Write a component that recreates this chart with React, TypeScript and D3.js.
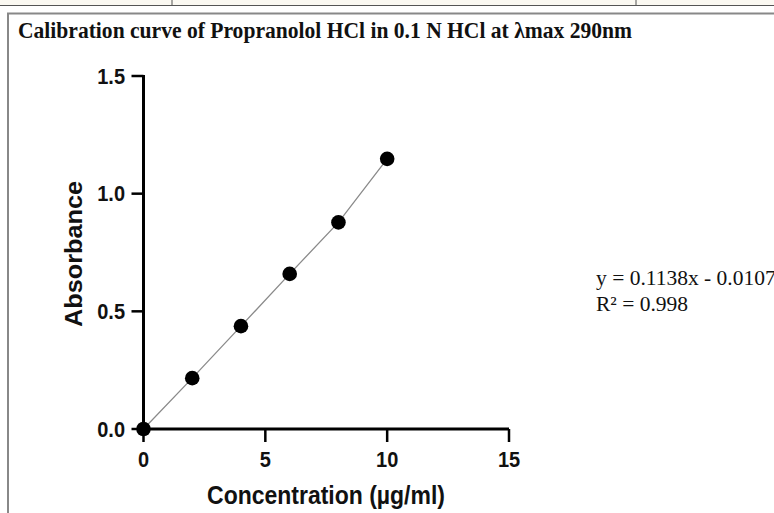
import React from "react";
import * as d3 from "d3";

// Calibration data: concentration (µg/ml) vs absorbance
const concentrations = [0, 2, 4, 6, 8, 10];
const absorbances = [0, 0.216, 0.437, 0.659, 0.878, 1.148];

const xTicks = [0, 5, 10, 15];
const yTicks = [0, 0.5, 1.0, 1.5];

const titleText = "Calibration curve of Propranolol HCl in 0.1 N HCl at \u03bbmax 290nm";
const xLabel = "Concentration (\u00b5g/ml)";
const yLabel = "Absorbance";
const equationLines = ["y = 0.1138x - 0.0107", "R\u00b2 = 0.998"];

const W = 774;
const H = 513;
const SY = 1.1; // vertical stretch of the axis lettering

export default function App() {
  const x = d3.scaleLinear().domain([0, 15]).range([143.5, 509]);
  const y = d3.scaleLinear().domain([0, 1.5]).range([429, 76]);

  const pts = concentrations.map((c, i) => [c, absorbances[i]] as [number, number]);
  const line = d3
    .line<[number, number]>()
    .x((d) => x(d[0]))
    .y((d) => y(d[1]));

  const sans = "'Liberation Sans', Arial, sans-serif";
  const serif = "'Liberation Serif', 'Times New Roman', serif";

  return (
    <svg
      width={W}
      height={H}
      viewBox={`0 0 ${W} ${H}`}
      style={{ position: "absolute", left: 0, top: 0, background: "#fff" }}
    >
      {/* table strip above the figure */}
      <rect x={0} y={0} width={W} height={5} fill="#fbf9f2" />
      <line x1={0} x2={W} y1={5.5} y2={5.5} stroke="#555" strokeWidth={1.2} />
      <line x1={172} x2={172} y1={0} y2={5} stroke="#555" strokeWidth={1} />
      <line x1={636} x2={636} y1={0} y2={5} stroke="#555" strokeWidth={1} />

      {/* figure frame */}
      <line x1={7} x2={W} y1={13.5} y2={13.5} stroke="#888" strokeWidth={2} />
      <line x1={8} x2={8} y1={13} y2={H} stroke="#888" strokeWidth={2} />

      {/* title */}
      <text
        transform={`translate(18,38) scale(1,1.08)`}
        fontFamily={serif}
        fontWeight="bold"
        fontSize={21.5}
        textLength={614}
        lengthAdjust="spacingAndGlyphs"
        fill="#111"
      >
        {titleText}
      </text>

      {/* fitted line through the standards */}
      <path d={line(pts) || ""} fill="none" stroke="#8a8a8a" strokeWidth={1.3} />

      {/* axes */}
      <line x1={x(0)} x2={x(15)} y1={y(0)} y2={y(0)} stroke="#000" strokeWidth={3} />
      <line x1={x(0)} x2={x(0)} y1={y(0) + 1.5} y2={y(1.5) - 1} stroke="#000" strokeWidth={3} />

      {yTicks.map((t) => (
        <g key={"y" + t}>
          <line x1={x(0) - 12} x2={x(0)} y1={y(t)} y2={y(t)} stroke="#000" strokeWidth={2.5} />
          <text
            transform={`translate(125,${y(t) + 7.5}) scale(1,${SY})`}
            textAnchor="end"
            fontFamily={sans}
            fontWeight="bold"
            fontSize={20}
            fill="#111"
          >
            {t.toFixed(1)}
          </text>
        </g>
      ))}

      {xTicks.map((t) => (
        <g key={"x" + t}>
          <line x1={x(t)} x2={x(t)} y1={y(0)} y2={y(0) + 13} stroke="#000" strokeWidth={2.5} />
          <text
            transform={`translate(${x(t)},467) scale(1,${SY})`}
            textAnchor="middle"
            fontFamily={sans}
            fontWeight="bold"
            fontSize={20}
            fill="#111"
          >
            {t}
          </text>
        </g>
      ))}

      {/* data points */}
      {pts.map((d, i) => (
        <circle key={i} cx={x(d[0])} cy={y(d[1])} r={7.3} fill="#000" />
      ))}

      {/* axis titles */}
      <text
        transform={`translate(326,504) scale(1,${SY})`}
        textAnchor="middle"
        fontFamily={sans}
        fontWeight="bold"
        fontSize={23}
        fill="#111"
      >
        {xLabel}
      </text>
      <text
        transform={`translate(82,254) rotate(-90) scale(${SY},1)`}
        textAnchor="middle"
        fontFamily={sans}
        fontWeight="bold"
        fontSize={23}
        fill="#111"
      >
        {yLabel}
      </text>

      {/* regression equation */}
      {equationLines.map((s, i) => (
        <text
          key={i}
          x={596}
          y={285 + i * 26}
          fontFamily={serif}
          fontSize={21.5}
          fill="#111"
        >
          {s}
        </text>
      ))}
    </svg>
  );
}
